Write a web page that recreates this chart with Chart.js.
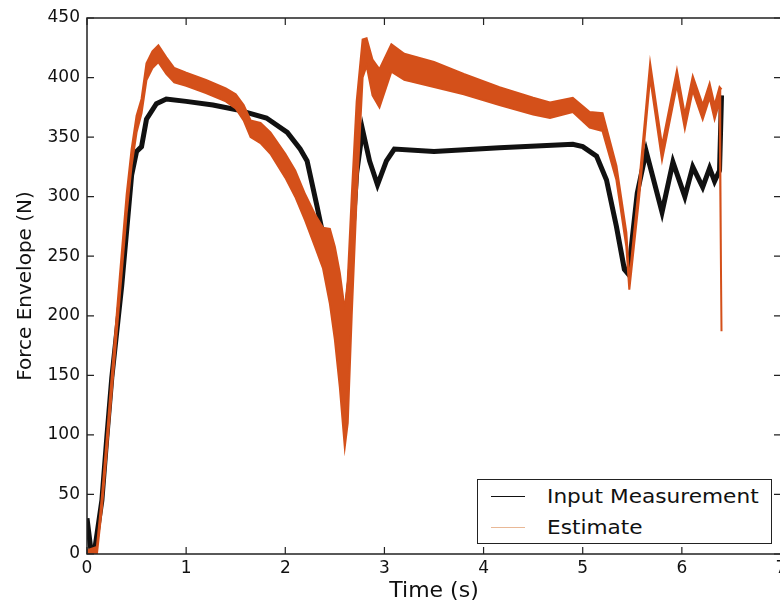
<!DOCTYPE html>
<html>
<head>
<meta charset="utf-8">
<script src="https://cdn.jsdelivr.net/npm/chart.js@4.4.0/dist/chart.umd.min.js"></script>
<style>
  html, body { margin: 0; padding: 0; background: #fff; overflow: hidden; }
  #wrap { position: relative; width: 800px; height: 607px; }
  .legend {
    position: absolute; left: 477px; top: 479px; width: 295px; height: 65px;
    box-sizing: border-box; border: 1.5px solid #222; background: #fff;
    font-family: "DejaVu Sans", sans-serif; font-size: 19px; color: #111;
  }
  .row { position: absolute; left: 0; height: 24px; line-height: 24px; }
  .row span.sample { position: absolute; left: 13px; top: 12px; width: 34px; height: 0; }
  .row span.label { position: absolute; left: 69px; white-space: nowrap; transform: scaleX(1.14); transform-origin: left center; }
</style>
</head>
<body>
<div id="wrap">
  <canvas id="chart" width="800" height="607"></canvas>
  <div class="legend">
    <div class="row" style="top:4px"><span class="sample" style="border-top:1.5px solid #111"></span><span class="label">Input Measurement</span></div>
    <div class="row" style="top:35px"><span class="sample" style="border-top:1.5px solid #e9b896"></span><span class="label">Estimate</span></div>
  </div>
</div>
<script>
// values (time in s, force in N)
const measTime  = [0, 0.04, 0.08, 0.15, 0.20, 0.25, 0.35, 0.45, 0.50, 0.55, 0.60, 0.70, 0.80, 1.00, 1.27, 1.51, 1.81, 2.02, 2.15, 2.22, 2.32, 2.40, 2.50, 2.58, 2.65, 2.72, 2.78, 2.85, 2.93, 3.02, 3.10, 3.50, 4.16, 4.90, 5.00, 5.14, 5.24, 5.34, 5.42, 5.46, 5.55, 5.64, 5.80, 5.91, 6.03, 6.11, 6.21, 6.28, 6.33, 6.38, 6.40];
const measForce = [30, 3, 5, 45, 98, 148, 225, 318, 338, 342, 365, 378, 382, 380, 377, 373, 366, 354, 340, 330, 292, 260, 215, 175, 230, 320, 356, 330, 310, 330, 340, 338, 341, 344, 342, 334, 314, 275, 239, 235, 303, 338, 287, 329, 300, 325, 308, 324, 313, 322, 385];

const estTime = [0, 0.10, 0.15, 0.20, 0.25, 0.33, 0.40, 0.45, 0.50, 0.55, 0.60, 0.66, 0.72, 0.80, 0.88, 1.00, 1.20, 1.40, 1.50, 1.58, 1.65, 1.75, 1.85, 2.00, 2.10, 2.20, 2.30, 2.38, 2.45, 2.50, 2.55, 2.60, 2.63, 2.67, 2.72, 2.78, 2.82, 2.88, 2.95, 3.07, 3.20, 3.50, 3.80, 4.16, 4.50, 4.67, 4.90, 5.07, 5.20, 5.34, 5.44, 5.47, 5.57, 5.68, 5.80, 5.95, 6.03, 6.11, 6.21, 6.28, 6.33, 6.38, 6.40];
const estHigh = [3, 6, 48, 98, 150, 232, 302, 340, 368, 382, 412, 422, 427, 417, 408, 404, 398, 391, 386, 377, 364, 362, 354, 336, 322, 302, 285, 274, 273, 258, 236, 205, 230, 300, 380, 432, 433, 415, 407, 428, 420, 413, 403, 392, 383, 379, 383, 371, 370, 326, 270, 230, 312, 412, 343, 406, 369, 401, 377, 395, 377, 392, 390];
const estLow  = [0, 0, 38, 86, 136, 216, 286, 326, 354, 370, 398, 408, 413, 403, 396, 393, 387, 380, 374, 364, 350, 345, 336, 316, 300, 280, 258, 240, 210, 180, 140, 90, 110, 200, 300, 400, 410, 385, 375, 405, 398, 392, 386, 377, 369, 366, 371, 358, 355, 314, 258, 222, 300, 400, 331, 394, 357, 389, 365, 383, 365, 380, 187];

const yTicks = [0, 50, 100, 150, 200, 250, 300, 350, 400, 450];
const xTicks = [0, 1, 2, 3, 4, 5, 6, 7];

const pts = (xs, ys) => xs.map((t, i) => ({ x: t, y: ys[i] }));
const orange = '#d4501a';
const font = { family: 'DejaVu Sans', size: 17 };

// matplotlib style box with inward ticks on all four sides
const frame = {
  id: 'frame',
  afterDatasetsDraw(chart) {
    const { ctx, chartArea: a, scales: { x, y } } = chart;
    ctx.save();
    ctx.strokeStyle = '#222';
    ctx.lineWidth = 1.5;
    ctx.strokeRect(a.left, a.top, a.right - a.left, a.bottom - a.top);
    ctx.lineWidth = 1.2;
    ctx.beginPath();
    xTicks.forEach(v => {
      const px = x.getPixelForValue(v);
      ctx.moveTo(px, a.bottom); ctx.lineTo(px, a.bottom - 7);
      ctx.moveTo(px, a.top); ctx.lineTo(px, a.top + 7);
    });
    yTicks.forEach(v => {
      const py = y.getPixelForValue(v);
      ctx.moveTo(a.left, py); ctx.lineTo(a.left + 7, py);
      ctx.moveTo(a.right, py); ctx.lineTo(a.right - 7, py);
    });
    ctx.stroke();
    ctx.restore();
  }
};

new Chart(document.getElementById('chart'), {
  type: 'line',
  data: {
    datasets: [
      {
        label: 'Estimate',
        data: pts(estTime, estHigh),
        borderColor: orange, borderWidth: 2, pointRadius: 0, fill: false, order: 1
      },
      {
        label: 'Estimate (low)',
        data: pts(estTime, estLow),
        borderColor: orange, backgroundColor: orange, borderWidth: 2, pointRadius: 0, fill: '-1', order: 0
      },
      {
        label: 'Input Measurement',
        data: pts(measTime, measForce),
        borderColor: '#111', borderWidth: 5, pointRadius: 0, fill: false, order: 2
      }
    ]
  },
  options: {
    responsive: false,
    animation: false,
    layout: { padding: { top: 18, right: 19, left: 0, bottom: 0 } },
    plugins: { legend: { display: false }, tooltip: { enabled: false } },
    scales: {
      x: {
        type: 'linear', min: 0, max: 7,
        afterBuildTicks: s => { s.ticks = xTicks.map(v => ({ value: v })); },
        afterFit: s => { s.height = 53; },
        grid: { display: false, drawTicks: false },
        border: { display: false },
        ticks: { color: '#111', font, padding: 4, maxRotation: 0 },
        title: { display: true, text: 'Time (s)', color: '#111', font: { family: 'DejaVu Sans', size: 22 }, padding: { top: 0, bottom: 3 } }
      },
      y: {
        min: 0, max: 450,
        afterBuildTicks: s => { s.ticks = yTicks.map(v => ({ value: v })); },
        afterFit: s => { s.width = 87; },
        grid: { display: false, drawTicks: false },
        border: { display: false },
        ticks: { color: '#111', font, padding: 7 },
        title: { display: true, text: 'Force Envelope (N)', color: '#111', font: { family: 'DejaVu Sans', size: 20 }, padding: { top: 14, bottom: 0 } }
      }
    }
  },
  plugins: [frame]
});
</script>
</body>
</html>
